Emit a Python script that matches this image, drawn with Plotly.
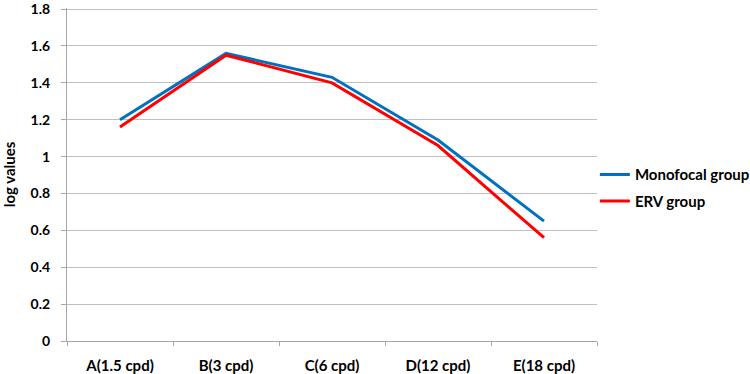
import plotly.graph_objects as go

categories = ["A(1.5 cpd)", "B(3 cpd)", "C(6 cpd)", "D(12 cpd)", "E(18 cpd)"]
monofocal = [1.20, 1.56, 1.43, 1.09, 0.65]
erv = [1.16, 1.55, 1.40, 1.06, 0.56]
y_tick_step = 0.2

font_family = "Lato, Liberation Sans, Arial, sans-serif"
bold_font = dict(family=font_family, size=15, color="black", weight="bold")
y_tick_font = dict(family=font_family, size=14, color="black", weight="bold")

fig = go.Figure()
fig.add_trace(go.Scatter(x=categories, y=monofocal, mode="lines", name="Monofocal group",
                         legendgroup="mono", line=dict(color="#0070C0", width=3)))
fig.add_trace(go.Scatter(x=categories, y=erv, mode="lines", name="ERV group",
                         legendgroup="erv", line=dict(color="#FF0000", width=3)))

fig.update_layout(
    width=750, height=374,
    margin=dict(l=67, r=153, t=8, b=33, autoexpand=False),
    plot_bgcolor="white", paper_bgcolor="white",
    font=dict(family=font_family, size=15, color="black"),
    showlegend=True,
    legend=dict(x=0.996, y=0.46, xanchor="left", yanchor="middle",
                font=bold_font,
                tracegroupgap=4, itemwidth=30, bgcolor="rgba(0,0,0,0)"),
)
fig.update_xaxes(type="category", showgrid=False, showline=True, linecolor="#A6A6A6", linewidth=1,
                 ticks="outside", tickson="boundaries", ticklen=4, tickcolor="#A6A6A6",
                 tickfont=bold_font, automargin=False,
                 range=[-0.5, 4.5], ticklabelstandoff=11)
fig.update_yaxes(range=[0, 1.806], tickmode="linear", tick0=0, dtick=y_tick_step,
                 showgrid=True, gridcolor="#BFBFBF", gridwidth=1,
                 showline=True, linecolor="#A6A6A6", linewidth=1,
                 ticks="outside", ticklen=5, tickcolor="#A6A6A6",
                 tickfont=y_tick_font, automargin=False, ticklabelstandoff=8,
                 ticklabeloverflow="allow",
                 title=dict(text="log values", font=bold_font, standoff=20),
                 zeroline=False)

fig.write_html("out.html", config={"displayModeBar": False},
               post_script="document.body.style.margin='0';")
